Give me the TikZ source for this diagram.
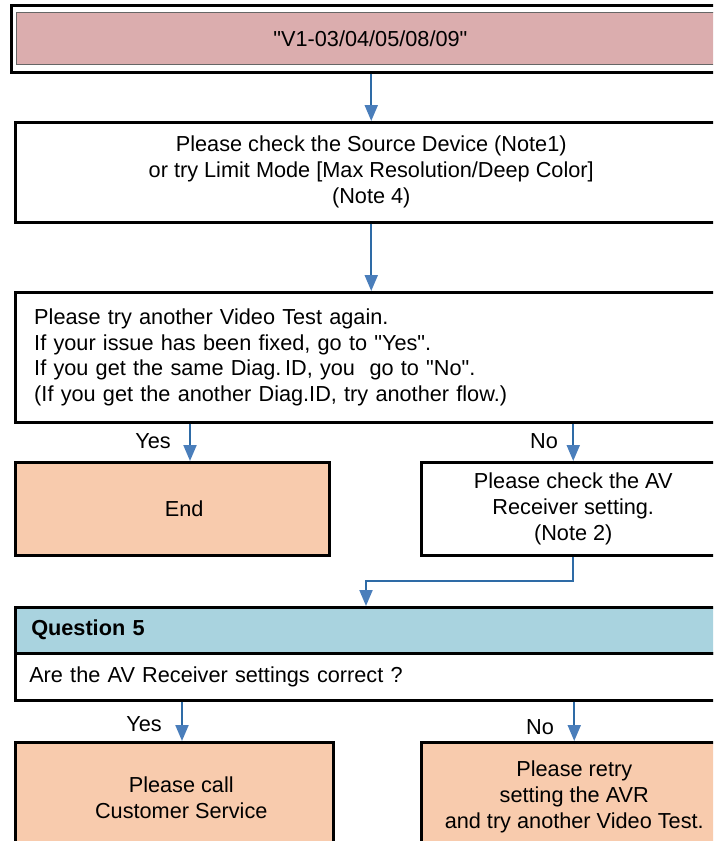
\documentclass[tikz,border=0pt]{standalone}
\usepackage{fontspec}
\setmainfont{Liberation Sans}[Ligatures=TeXOff]
\usetikzlibrary{arrows.meta}
\definecolor{titlepink}{HTML}{DBADAE}
\definecolor{peach}{HTML}{F8CBAD}
\definecolor{qblue}{HTML}{A9D3DF}
\definecolor{flowline}{HTML}{2E6BA6}
\definecolor{flowhead}{HTML}{4A7EBB}
\begin{document}
\begin{tikzpicture}[x=1pt,y=-1pt,
  txt/.style={font=\fontsize{21.7}{26}\selectfont},
  box/.style={txt,draw=black,line width=2.5pt,rectangle,inner sep=0pt,anchor=north west},
  flow/.style={draw=flowline,line width=2pt,-{Triangle[length=16pt,width=13pt,color=flowhead,fill=flowhead]}},
  lbl/.style={txt,inner sep=0pt}]
\useasboundingbox (0,0) rectangle (713,841);
\clip (0,0) rectangle (713,841);

% title with double frame
\node[draw=black,line width=2.5pt,anchor=north west,minimum width=720pt,minimum height=67pt,inner sep=0pt] (frame) at (10,4) {};
\node[txt,draw=black!60,line width=0.8pt,fill=titlepink,anchor=north west,minimum width=708pt,minimum height=52pt,inner sep=0pt] (title) at (16,12) {"V1-03/04/05/08/09"};

% first instruction
\node[box,minimum width=712pt,minimum height=100pt,align=center] (src) at (14,121)
  {Please check the Source Device (Note1)\\or try Limit Mode [Max Resolution/Deep Color]\\(Note 4)};

% retest instruction
\node[box,text width=674pt,inner xsep=19pt,minimum height=130pt,align=left,font=\fontsize{21.7}{25.7}\selectfont] (test) at (14,291)
  {Please try another Video Test again.\\If your issue has been fixed,\ go to "Yes".\\If you get the same Diag.\,ID, you\ \ go to "No".\\(If you get the another Diag.ID, try another flow.)};

\node[box,fill=peach,minimum width=314pt,minimum height=93pt] (endbox) at (14,461) {\hspace*{24pt}End};
\node[box,minimum width=304pt,minimum height=93pt,align=center] (note) at (420,461)
  {Please check the AV\\Receiver setting.\\(Note 2)};

% question 5
\node[box,fill=qblue,text width=680pt,inner xsep=16pt,minimum height=46pt,align=left,font=\fontsize{21.7}{26}\selectfont\bfseries] (qhead) at (14,606) {Question 5};
\node[box,text width=684pt,inner xsep=14pt,minimum height=47pt,align=left] (qbody) at (14,652) {Are the AV Receiver settings correct ?};

\node[box,fill=peach,minimum width=318pt,minimum height=110pt,align=center] (call) at (14,741)
  {\hspace*{14pt}Please call\\\hspace*{14pt}Customer Service};
\node[box,fill=peach,minimum width=306pt,minimum height=110pt,align=center] (retry) at (420,741)
  {Please retry\\setting the AVR\\and try another Video Test.};

% connectors
\coordinate (yesa) at (190,0);
\coordinate (qin) at (366,0);
\coordinate (yesb) at (182,0);
\draw[flow] (frame.south) -- (src.north);
\draw[flow] (src.south) -- (test.north);
\draw[flow] (test.south -| yesa) -- (endbox.north -| yesa);
\draw[flow] (test.south -| note.north) -- (note.north);
\draw[flow] (note.south) -- ++(0,24) -| (qhead.north -| qin);
\draw[flow] (qbody.south -| yesb) -- (call.north -| yesb);
\draw[flow] (qbody.south -| retry.north) -- (retry.north);

% branch labels
\node[lbl] (y1) at (153,441) {Yes};
\node[lbl] (n1) at (544,441) {No};
\node[lbl] (y2) at (144,724) {Yes};
\node[lbl] (n2) at (540,727) {No};
\end{tikzpicture}
\end{document}
